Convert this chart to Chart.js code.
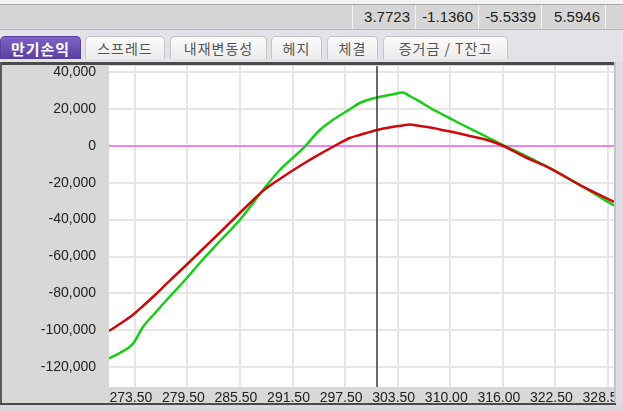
<!DOCTYPE html>
<html>
<head>
<meta charset="utf-8">
<script src="https://cdn.jsdelivr.net/npm/chart.js@4.4.1/dist/chart.umd.min.js"></script>
<style>
  html,body{margin:0;padding:0;width:623px;height:411px;overflow:hidden;background:#e2e2e8;font-family:"Liberation Sans",Arial,sans-serif;}
  #topstrip{position:absolute;left:0;top:0;width:623px;height:4px;background:#f4f4f4;border-bottom:1px solid #a8a8a8;}
  #numrow{position:absolute;left:0;top:5px;width:623px;height:24px;background:#d6d6d6;border-bottom:1px solid #b4b4b4;}
  .cell{position:absolute;top:0;height:24px;line-height:24px;text-align:right;font-size:15px;color:#222;border-left:1px solid #f2f2f2;box-sizing:border-box;padding-right:5px;}
  .tab{position:absolute;top:36px;height:23px;line-height:23px;text-align:center;font-family:"Noto Sans CJK KR",sans-serif;font-size:14px;letter-spacing:1px;white-space:pre;color:#555;background:linear-gradient(#fbfbfb,#ececec);border:1px solid #c4c4c4;border-bottom:none;border-radius:5px 5px 0 0;box-sizing:border-box;}
  .tab.sel{background:linear-gradient(#7e62c8,#5b3f9f);color:#fff;font-weight:bold;font-size:15px;border-color:#5b3f9f;}
  #frameTop{position:absolute;left:0;top:62px;width:616px;height:3px;background:#4a4a4a;}
  #frameLeft{position:absolute;left:0;top:62px;width:2px;height:343px;background:#5a5a5a;}
  #wrap{position:absolute;left:2px;top:65px;width:621px;height:339px;}
  #rightStrip{position:absolute;left:614px;top:62px;width:9px;height:349px;background:#dcdce4;border-left:2px solid #c4c4c8;box-sizing:border-box;}
  #bottomLine{position:absolute;left:0;top:403px;width:616px;height:2px;background:#4a4a4a;}
  #bottom{position:absolute;left:0;top:405px;width:623px;height:6px;background:#d8d8de;}
</style>
</head>
<body>
<div id="topstrip"></div>
<div id="numrow">
  <div class="cell" style="left:352px;width:63px;">3.7723</div>
  <div class="cell" style="left:415px;width:63px;">-1.1360</div>
  <div class="cell" style="left:478px;width:63px;">-5.5339</div>
  <div class="cell" style="left:541px;width:64px;">5.5946</div>
  <div class="cell" style="left:605px;width:18px;"></div>
</div>
<div class="tab sel" style="left:0;width:81px;">만기손익</div>
<div class="tab" style="left:85px;width:80px;">스프레드</div>
<div class="tab" style="left:170px;width:97px;">내재변동성</div>
<div class="tab" style="left:271px;width:51px;">헤지</div>
<div class="tab" style="left:327px;width:51px;">체결</div>
<div class="tab" style="left:383px;width:125px;">증거금 / T잔고</div>
<div id="frameTop"></div>
<div id="frameLeft"></div>
<div id="wrap"><canvas id="c" width="621" height="339"></canvas></div>
<div id="rightStrip"></div>
<div id="bottomLine"></div>
<div id="bottom"></div>
<script>
// Underlying prices (x values)
const prices = [270.5, 271.75, 273.25, 274.45, 275.85, 277.2, 279.55, 281.05, 283.4, 285.7, 286.9, 288.4, 290.35, 293.05, 295.0, 296.5, 298.5, 299.65, 301.65, 303.4, 304.65, 305.45, 306.65, 308.15, 308.95, 310.95, 312.1, 314.45, 315.95, 318.85, 321.75, 325.6, 329.2];
// Expiry P&L (red) and current P&L (green)
const redPL = [-100378, -96584, -91706, -86828, -80866, -74742, -64335, -57560, -46991, -36422, -31002, -24444, -17994, -9864, -4499, -650, 4228, 5854, 8564, 10190, 11003, 11545, 10732, 9648, 8835, 6938, 5691, 3144, 705, -6070, -12195, -22168, -30460];
const greenPL = [-115283, -112302, -107500, -98210, -90622, -83576, -71652, -63522, -51598, -40216, -33170, -23956, -13116, -1463, 8564, 13984, 19800, 23198, 26179, 27805, 28889, 26992, 23902, 19675, 17778, 12900, 10190, 4770, 1247, -5257, -12032, -22330, -32357];
// X tick labels (evenly spaced between first and last)
const xTickLabels = ['273.50','279.50','285.50','291.50','297.50','303.50','310.00','316.00','322.50','328.50'];
// Y ticks
const yTicks = [-120000, -100000, -80000, -60000, -40000, -20000, 0, 20000, 40000];
const yMin = -130730, yMax = 43250;
const currentPrice = 301.65;

const xFirst = parseFloat(xTickLabels[0]);
const xLast = parseFloat(xTickLabels[xTickLabels.length-1]);
const xTickValues = xTickLabels.map((_, i) => xFirst + i * (xLast - xFirst) / (xTickLabels.length - 1));

const bgPlugin = {
  id: 'bg',
  beforeDraw(chart) {
    const {ctx, chartArea: a} = chart;
    ctx.save();
    ctx.fillStyle = '#d8d8d8';
    ctx.fillRect(0, 0, chart.width, chart.height);
    ctx.fillStyle = '#ffffff';
    ctx.fillRect(a.left, a.top, a.right - a.left, a.bottom - a.top);
    ctx.restore();
  },
  afterDatasetsDraw(chart) {
    const {ctx, chartArea: a, scales} = chart;
    const x = scales.x.getPixelForValue(currentPrice);
    ctx.save();
    ctx.strokeStyle = '#3a3a3a';
    ctx.lineWidth = 1.5;
    ctx.beginPath();
    ctx.moveTo(x, a.top);
    ctx.lineTo(x, a.bottom);
    ctx.stroke();
    ctx.restore();
  }
};

const fmt = v => v.toLocaleString('en-US');

new Chart(document.getElementById('c'), {
  type: 'line',
  data: {
    datasets: [
      { label: 'expiry', data: prices.map((p, i) => ({x: p, y: redPL[i]})), borderColor: '#cc0a0a', borderWidth: 2.5, pointRadius: 0, cubicInterpolationMode: 'monotone', order: 0 },
      { label: 'current', data: prices.map((p, i) => ({x: p, y: greenPL[i]})), borderColor: '#18cc18', borderWidth: 2.5, pointRadius: 0, cubicInterpolationMode: 'monotone', order: 1 }
    ]
  },
  options: {
    responsive: false,
    animation: false,
    events: [],
    layout: { padding: { top: 1, right: 9, left: 0, bottom: 0 } },
    plugins: { legend: { display: false }, tooltip: { enabled: false } },
    scales: {
      x: {
        type: 'linear',
        min: prices[0],
        max: prices[prices.length - 1],
        afterBuildTicks: s => { s.ticks = xTickValues.map(v => ({value: v})); },
        afterFit: s => { s.height = 17; s.paddingLeft = 0; s.paddingRight = 0; },
        ticks: {
          autoSkip: false, maxRotation: 0, minRotation: 0, padding: 3, labelOffset: -4,
          color: '#222', font: { family: '"Liberation Sans", Arial, sans-serif', size: 14 },
          callback: (v, i) => xTickLabels[i]
        },
        grid: { color: '#e6e6e6', lineWidth: 2, drawTicks: false },
        border: { display: false }
      },
      y: {
        min: yMin, max: yMax,
        afterBuildTicks: s => { s.ticks = yTicks.map(v => ({value: v})); },
        afterFit: s => { s.width = 107; s.paddingTop = 0; s.paddingBottom = 0; },
        ticks: {
          padding: 13, color: '#222', font: { family: '"Liberation Sans", Arial, sans-serif', size: 14 },
          callback: v => fmt(v)
        },
        grid: {
          drawTicks: false,
          color: c => c.tick && c.tick.value === 0 ? '#ee82ee' : '#e6e6e6',
          lineWidth: 2
        },
        border: { display: false }
      }
    }
  },
  plugins: [bgPlugin]
});
</script>
</body>
</html>
